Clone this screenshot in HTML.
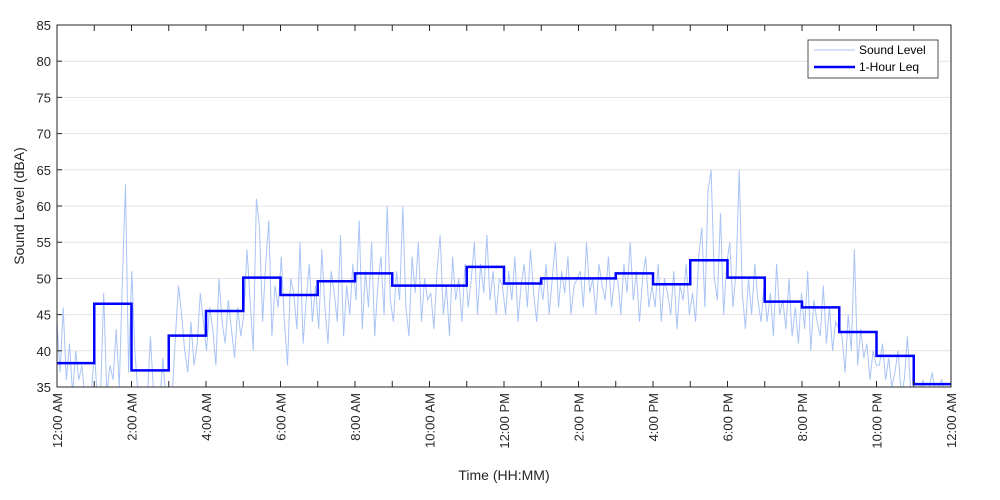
<!DOCTYPE html>
<html><head><meta charset="utf-8"><style>
body{margin:0;background:#fff;}
svg{display:block;font-family:"Liberation Sans",sans-serif;}
</style></head><body>
<svg id="chart" width="1000" height="500" viewBox="0 0 1000 500">
<defs><clipPath id="clip"><rect x="57" y="25" width="894" height="362"/></clipPath></defs>
<rect x="57" y="25" width="894" height="362" fill="#fff"/>
<g id="grid"></g>
<g id="series" clip-path="url(#clip)"></g>
<rect x="57" y="25" width="894" height="362" fill="none" stroke="#262626" stroke-width="1"/>
<g id="axes"></g>
<text x="24" y="206" transform="rotate(-90 24 206)" text-anchor="middle" font-size="14" fill="#262626">Sound Level (dBA)</text>
<text x="504" y="480" text-anchor="middle" font-size="14" fill="#262626">Time (HH:MM)</text>
<g>
<rect x="808" y="40" width="130" height="38" fill="#fff" stroke="#262626" stroke-width="0.8"/>
<line x1="814" y1="50" x2="855" y2="50" stroke="#aac4f5" stroke-width="1"/>
<text x="859" y="54" font-size="12" fill="#000">Sound Level</text>
<line x1="814" y1="67" x2="855" y2="67" stroke="#0000ff" stroke-width="2.5"/>
<text x="859" y="71" font-size="12" fill="#000">1-Hour Leq</text>
</g>
</svg>
<script>
const yTicks=[35,40,45,50,55,60,65,70,75,80,85];
const xTickLabels=["12:00 AM","2:00 AM","4:00 AM","6:00 AM","8:00 AM","10:00 AM","12:00 PM","2:00 PM","4:00 PM","6:00 PM","8:00 PM","10:00 PM","12:00 AM"];
const leqValues=[38.3,46.5,37.3,42.1,45.5,50.1,47.7,49.6,50.7,49.0,49.0,51.6,49.3,50.0,50.0,50.7,49.2,52.5,50.1,46.8,46.0,42.6,39.3,35.4];
const soundLevel=[
44,37,46,36,41,34,40,36,38,33,35,34,
40,33,34,48,34,38,36,43,35,50,63,37,
51,40,34,33,32,33,42,34,33,33,39,33,
33,34,42,49,45,40,37,44,38,41,48,44,
40,46,43,38,50,44,41,47,43,39,46,42,
45,54,47,40,61,57,44,52,58,42,49,46,
53,44,38,50,48,43,55,41,47,52,44,49,
43,54,46,41,51,48,44,56,42,49,45,52,
47,58,43,51,46,55,42,49,53,45,60,47,
44,51,47,60,46,42,53,48,55,44,50,47,
48,43,51,56,45,49,42,53,47,50,44,52,
46,50,55,45,52,48,56,47,51,45,50,49,
45,51,47,53,44,49,52,46,54,48,44,50,
47,52,45,50,55,46,51,48,53,45,49,50,
51,46,55,48,50,45,52,49,47,53,46,50,
50,45,52,48,55,47,51,44,50,53,46,49,
46,52,44,50,48,45,51,43,49,47,52,45,
48,44,53,57,46,62,65,50,47,59,45,52,
55,46,51,65,48,43,50,45,52,47,44,49,
44,48,42,52,45,47,43,50,42,46,41,48,
43,51,40,47,44,42,49,41,46,40,44,43,
42,37,45,40,54,38,43,39,41,36,40,38,
38,41,36,39,35,37,40,34,36,42,35,34,
35,34,36,33,35,37,34,35,36,34,35,34];
const X0=57,X1=951,Y0=387,Y1=25;
const xs=h=>X0+(X1-X0)*h/24;
const ys=v=>Y0-(Y0-Y1)*(v-35)/50;
const NS="http://www.w3.org/2000/svg";
function mk(t,a,p){const e=document.createElementNS(NS,t);for(const k in a)e.setAttribute(k,a[k]);p.appendChild(e);return e;}
const grid=document.getElementById('grid'),axes=document.getElementById('axes'),series=document.getElementById('series');
yTicks.forEach(v=>{
 const g=mk('line',{x1:X0,x2:X1,y1:ys(v),y2:ys(v),stroke:'#e3e3e3','stroke-width':1},grid);
 
 
 const t=mk('line',{x1:X0,x2:X0+5,y1:ys(v),y2:ys(v),stroke:'#262626'},axes);
 
 
 const l=mk('text',{x:X0-6,y:ys(v)+5,'text-anchor':'end','font-size':13,fill:'#262626'},axes);
 l.textContent=v;
 
 
});
for(let h=0;h<=24;h++){
 const t=mk('line',{x1:xs(h),x2:xs(h),y1:Y0,y2:Y0-6,stroke:'#262626'},axes);
 
 
 const t2=mk('line',{x1:xs(h),x2:xs(h),y1:Y1,y2:Y1+6,stroke:'#262626'},axes);
 
 
}
xTickLabels.forEach((s,i)=>{
 const x=xs(i*2)+5,y=Y0+6;
 const l=mk('text',{x:x,y:y,transform:`rotate(-90 ${x} ${y})`,'text-anchor':'end','font-size':13,fill:'#262626'},axes);
 l.textContent=s;
 
 
});
const n=soundLevel.length;
const pts=soundLevel.map((v,i)=>xs(24*i/(n-1)).toFixed(1)+','+ys(v).toFixed(1)).join(' ');
const sl=mk('polyline',{points:pts,fill:'none',stroke:'#aac4f5','stroke-width':1},series);


let d='';
leqValues.forEach((v,i)=>{d+=(i?'L':'M')+xs(i)+','+ys(v)+'L'+xs(i+1)+','+ys(v);});
const lq=mk('path',{d:d,fill:'none',stroke:'#0000ff','stroke-width':2.5},series);


</script>
</body></html>
